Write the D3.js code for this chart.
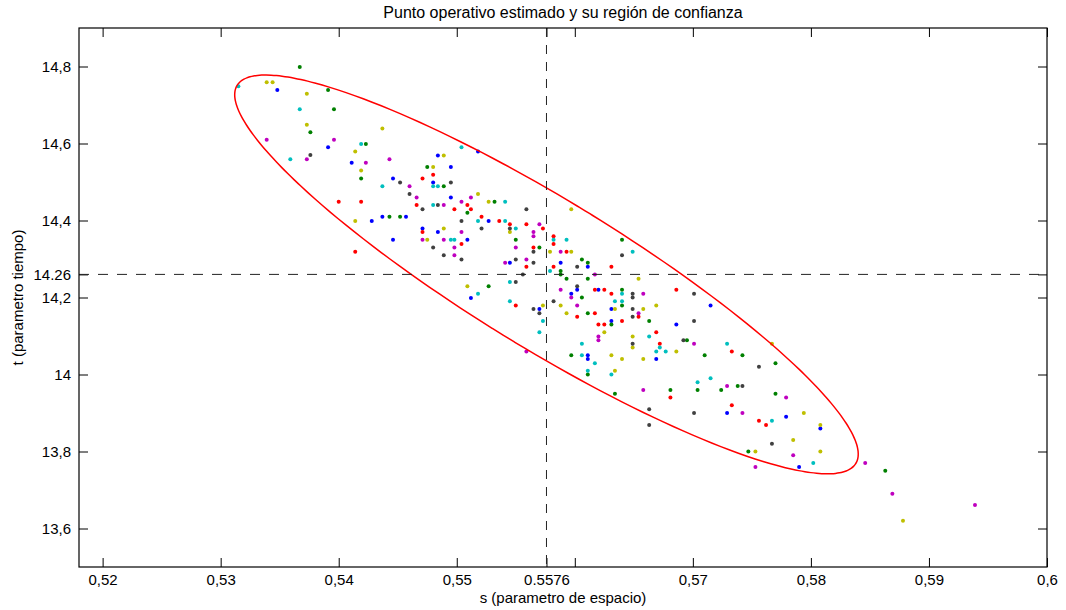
<!DOCTYPE html>
<html>
<head>
<meta charset="utf-8">
<script src="https://cdn.jsdelivr.net/npm/d3@7"></script>
<style>
  html, body { margin: 0; padding: 0; background: #fff; }
  svg { display: block; font-family: "Liberation Sans", Arial, Helvetica, sans-serif; }
</style>
</head>
<body>
<svg id="chart" width="1066" height="610"></svg>
<script>
// ---------------- data ----------------
const titleText = "Punto operativo estimado y su región de confianza";
const xLabelText = "s (parametro de espacio)";
const yLabelText = "t (parametro tiempo)";

const xDomain = [0.518, 0.6];
const yDomain = [13.5, 14.9];

const xTicks = [0.52, 0.53, 0.54, 0.55, 0.5576, 0.56, 0.57, 0.58, 0.59, 0.6];
const xTickLabels = ["0,52", "0,53", "0,54", "0,55", "0.5576", "", "0,57", "0,58", "0,59", "0,6"];
const yTicks = [13.6, 13.8, 14, 14.2, 14.26, 14.4, 14.6, 14.8];
const yTickLabels = ["13,6", "13,8", "14", "14,2", "14.26", "14,4", "14,6", "14,8"];

// operating point and confidence ellipse (center, half extents, correlation)
const opPoint = [0.5576, 14.26];
const ellipseHalfS = 0.02641;
const ellipseHalfT = 0.518;
const ellipseRho = -0.901;

// samples, grouped by plotting colour
const samplesBlue = [
  [0.5348,14.739],[0.5391,14.590],[0.5411,14.550],[0.5484,14.569],[0.5495,14.539],[0.5446,14.509],
  [0.5480,14.499],[0.5495,14.460],[0.5437,14.410],[0.5457,14.410],[0.5428,14.399],[0.5471,14.379],
  [0.5484,14.370],[0.5446,14.350],[0.5509,14.350],[0.5512,14.199],[0.5527,14.399],[0.5545,14.290],
  [0.5588,14.290],[0.5611,14.280],[0.5602,14.220],[0.5620,14.220],[0.5597,14.210],[0.5715,14.179],
  [0.5570,14.170],[0.5631,14.170],[0.5631,14.139],[0.5686,14.130],[0.5611,14.050],[0.5611,14.040],
  [0.5669,14.040],[0.5518,14.579],[0.5729,13.900],[0.5779,13.890],[0.5808,13.860],[0.5790,13.760]
];
const samplesGreen = [
  [0.5367,14.799],[0.5391,14.739],[0.5396,14.689],[0.5376,14.629],[0.5423,14.599],[0.5475,14.539],
  [0.5419,14.509],[0.5489,14.489],[0.5509,14.420],[0.5443,14.410],[0.5452,14.410],[0.5532,14.449],
  [0.5550,14.350],[0.5640,14.350],[0.5570,14.330],[0.5606,14.299],[0.5611,14.290],[0.5588,14.269],
  [0.5588,14.260],[0.5593,14.249],[0.5611,14.249],[0.5527,14.229],[0.5640,14.220],[0.5606,14.200],
  [0.5640,14.179],[0.5611,14.159],[0.5663,14.139],[0.5631,14.130],[0.5695,14.089],[0.5597,14.050],
  [0.5710,14.050],[0.5611,14.000],[0.5681,13.960],[0.5704,13.960],[0.5724,13.960],[0.5634,13.950],
  [0.5742,14.050],[0.5770,14.029],[0.5738,13.970],[0.5770,13.950],[0.5747,13.800],[0.5863,13.750]
];
const samplesRed = [
  [0.5480,14.519],[0.5471,14.509],[0.5400,14.449],[0.5419,14.449],[0.5466,14.440],[0.5509,14.440],
  [0.5498,14.429],[0.5512,14.429],[0.5471,14.370],[0.5504,14.339],[0.5414,14.319],[0.5521,14.410],
  [0.5536,14.399],[0.5545,14.390],[0.5559,14.390],[0.5573,14.379],[0.5582,14.359],[0.5582,14.339],
  [0.5565,14.330],[0.5593,14.319],[0.5559,14.280],[0.5582,14.280],[0.5631,14.280],[0.5617,14.220],
  [0.5625,14.220],[0.5686,14.220],[0.5631,14.210],[0.5550,14.179],[0.5617,14.159],[0.5602,14.150],
  [0.5654,14.150],[0.5640,14.139],[0.5620,14.130],[0.5625,14.130],[0.5669,14.110],[0.5672,14.080],
  [0.5681,13.940],[0.5733,14.060],[0.5733,13.920],[0.5756,13.880],[0.5762,13.869]
];
const samplesCyan = [
  [0.5315,14.749],[0.5367,14.689],[0.5419,14.599],[0.5504,14.590],[0.5359,14.559],[0.5437,14.489],
  [0.5480,14.489],[0.5484,14.489],[0.5480,14.440],[0.5495,14.350],[0.5498,14.350],[0.5541,14.449],
  [0.5518,14.399],[0.5541,14.399],[0.5550,14.379],[0.5582,14.350],[0.5593,14.350],[0.5649,14.319],
  [0.5579,14.269],[0.5545,14.240],[0.5518,14.210],[0.5640,14.210],[0.5545,14.190],[0.5634,14.190],
  [0.5640,14.190],[0.5573,14.139],[0.5570,14.110],[0.5663,14.099],[0.5606,14.080],[0.5672,14.070],
  [0.5669,14.060],[0.5677,14.060],[0.5606,14.050],[0.5617,14.029],[0.5611,14.010],[0.5631,14.000],
  [0.5704,13.980],[0.5715,13.990],[0.5729,14.080],[0.5767,13.880],[0.5802,13.770]
];
const samplesMagenta = [
  [0.5339,14.610],[0.5396,14.610],[0.5373,14.559],[0.5423,14.550],[0.5443,14.559],[0.5460,14.489],
  [0.5466,14.460],[0.5512,14.460],[0.5489,14.440],[0.5504,14.449],[0.5504,14.370],[0.5471,14.350],
  [0.5489,14.350],[0.5498,14.330],[0.5498,14.310],[0.5570,14.390],[0.5565,14.370],[0.5565,14.359],
  [0.5550,14.330],[0.5588,14.319],[0.5559,14.299],[0.5541,14.290],[0.5617,14.260],[0.5588,14.220],
  [0.5658,14.210],[0.5597,14.200],[0.5602,14.179],[0.5654,14.159],[0.5620,14.099],[0.5620,14.089],
  [0.5701,14.080],[0.5559,14.060],[0.5658,13.960],[0.5729,13.970],[0.5779,13.940],[0.5742,13.900],
  [0.5785,13.790],[0.5753,13.760],[0.5846,13.770],[0.5869,13.690],[0.5939,13.661]
];
const samplesYellow = [
  [0.5339,14.759],[0.5344,14.759],[0.5373,14.729],[0.5373,14.649],[0.5437,14.639],[0.5414,14.579],
  [0.5489,14.569],[0.5419,14.530],[0.5480,14.539],[0.5414,14.399],[0.5489,14.379],[0.5475,14.350],
  [0.5509,14.229],[0.5518,14.469],[0.5527,14.449],[0.5597,14.429],[0.5545,14.370],[0.5579,14.319],
  [0.5597,14.319],[0.5654,14.249],[0.5573,14.179],[0.5588,14.179],[0.5669,14.179],[0.5634,14.170],
  [0.5658,14.170],[0.5593,14.159],[0.5625,14.110],[0.5649,14.099],[0.5649,14.070],[0.5686,14.060],
  [0.5631,14.050],[0.5640,14.040],[0.5658,14.040],[0.5634,14.010],[0.5767,14.080],[0.5794,13.900],
  [0.5808,13.869],[0.5785,13.830],[0.5753,13.800],[0.5808,13.800],[0.5878,13.620]
];
const samplesBlack = [
  [0.5376,14.570],[0.5452,14.499],[0.5495,14.499],[0.5460,14.469],[0.5484,14.440],[0.5471,14.429],
  [0.5504,14.399],[0.5480,14.330],[0.5489,14.310],[0.5504,14.299],[0.5559,14.429],[0.5521,14.379],
  [0.5545,14.379],[0.5565,14.319],[0.5640,14.310],[0.5550,14.299],[0.5565,14.290],[0.5602,14.280],
  [0.5556,14.260],[0.5550,14.240],[0.5602,14.229],[0.5649,14.210],[0.5701,14.210],[0.5649,14.200],
  [0.5582,14.190],[0.5565,14.170],[0.5649,14.170],[0.5570,14.159],[0.5649,14.150],[0.5701,14.139],
  [0.5692,14.089],[0.5649,14.080],[0.5663,13.910],[0.5701,13.900],[0.5663,13.869],[0.5756,14.020],
  [0.5742,13.970],[0.5767,13.820]
];

const seriesList = [
  { values: samplesBlue,    color: "#0000ff" },
  { values: samplesGreen,   color: "#008000" },
  { values: samplesRed,     color: "#ff0000" },
  { values: samplesCyan,    color: "#00bfbf" },
  { values: samplesMagenta, color: "#bf00bf" },
  { values: samplesYellow,  color: "#bfbf00" },
  { values: samplesBlack,   color: "#404040" }
];

// ---------------- layout ----------------
const plot = { left: 79, right: 1047, top: 28, bottom: 567 };
const svg = d3.select("#chart");

const x = d3.scaleLinear().domain(xDomain).range([plot.left, plot.right]);
const y = d3.scaleLinear().domain(yDomain).range([plot.bottom, plot.top]);

svg.append("defs").append("clipPath").attr("id", "plotclip")
  .append("rect").attr("x", plot.left).attr("y", plot.top)
  .attr("width", plot.right - plot.left).attr("height", plot.bottom - plot.top);

const fontSize = 15;
const tickLen = 9;

function styleAxis(g) {
  g.select(".domain").remove();
  g.selectAll(".tick line").attr("stroke", "#000").attr("stroke-width", 1);
  g.selectAll(".tick text").attr("fill", "#000").style("font-size", fontSize + "px")
    .style("font-family", "'Liberation Sans', Arial, sans-serif");
}

// bottom axis with labels
svg.append("g").attr("transform", `translate(0,${plot.bottom})`)
  .call(d3.axisBottom(x).tickValues(xTicks).tickSizeInner(-tickLen).tickSizeOuter(0).tickPadding(7)
    .tickFormat((d, i) => xTickLabels[i]))
  .call(styleAxis);
// top axis (ticks only)
svg.append("g").attr("transform", `translate(0,${plot.top})`)
  .call(d3.axisTop(x).tickValues(xTicks).tickSizeInner(-tickLen).tickSizeOuter(0).tickFormat(""))
  .call(styleAxis);
// left axis with labels
svg.append("g").attr("transform", `translate(${plot.left},0)`)
  .call(d3.axisLeft(y).tickValues(yTicks).tickSizeInner(-tickLen).tickSizeOuter(0).tickPadding(8)
    .tickFormat((d, i) => yTickLabels[i]))
  .call(styleAxis);
// right axis (ticks only)
svg.append("g").attr("transform", `translate(${plot.right},0)`)
  .call(d3.axisRight(y).tickValues(yTicks).tickSizeInner(-tickLen).tickSizeOuter(0).tickFormat(""))
  .call(styleAxis);

const plotG = svg.append("g").attr("clip-path", "url(#plotclip)");

// samples
seriesList.forEach(s => {
  plotG.append("g").selectAll("circle").data(s.values).join("circle")
    .attr("cx", d => x(d[0])).attr("cy", d => y(d[1]))
    .attr("r", 2).attr("fill", s.color);
});

// confidence ellipse
const tSteps = d3.range(0, 361, 2).map(a => a * Math.PI / 180);
const ellipsePts = tSteps.map(t => [
  opPoint[0] + ellipseHalfS * Math.cos(t),
  opPoint[1] + ellipseHalfT * (ellipseRho * Math.cos(t) + Math.sqrt(1 - ellipseRho * ellipseRho) * Math.sin(t))
]);
plotG.append("path").datum(ellipsePts)
  .attr("d", d3.line().x(d => x(d[0])).y(d => y(d[1])).curve(d3.curveCardinalClosed))
  .attr("fill", "none").attr("stroke", "#ff0000").attr("stroke-width", 1.5);

// dashed guide lines through operating point
plotG.append("line")
  .attr("x1", x(opPoint[0])).attr("x2", x(opPoint[0]))
  .attr("y1", plot.top).attr("y2", plot.bottom)
  .attr("stroke", "#222").attr("stroke-width", 1).attr("stroke-dasharray", "9,8");
plotG.append("line")
  .attr("x1", plot.left).attr("x2", plot.right)
  .attr("y1", y(opPoint[1])).attr("y2", y(opPoint[1]))
  .attr("stroke", "#222").attr("stroke-width", 1).attr("stroke-dasharray", "10,9");

// box
svg.append("rect").attr("x", plot.left).attr("y", plot.top)
  .attr("width", plot.right - plot.left).attr("height", plot.bottom - plot.top)
  .attr("fill", "none").attr("stroke", "#000").attr("stroke-width", 1.2);

// title and axis labels
svg.append("text").attr("x", (plot.left + plot.right) / 2).attr("y", 18)
  .attr("text-anchor", "middle").style("font-size", "16px").text(titleText);
svg.append("text").attr("x", (plot.left + plot.right) / 2).attr("y", 603)
  .attr("text-anchor", "middle").style("font-size", "15px").text(xLabelText);
svg.append("text").attr("transform", `translate(23,${(plot.top + plot.bottom) / 2}) rotate(-90)`)
  .attr("text-anchor", "middle").style("font-size", "15px").text(yLabelText);
</script>
</body>
</html>
